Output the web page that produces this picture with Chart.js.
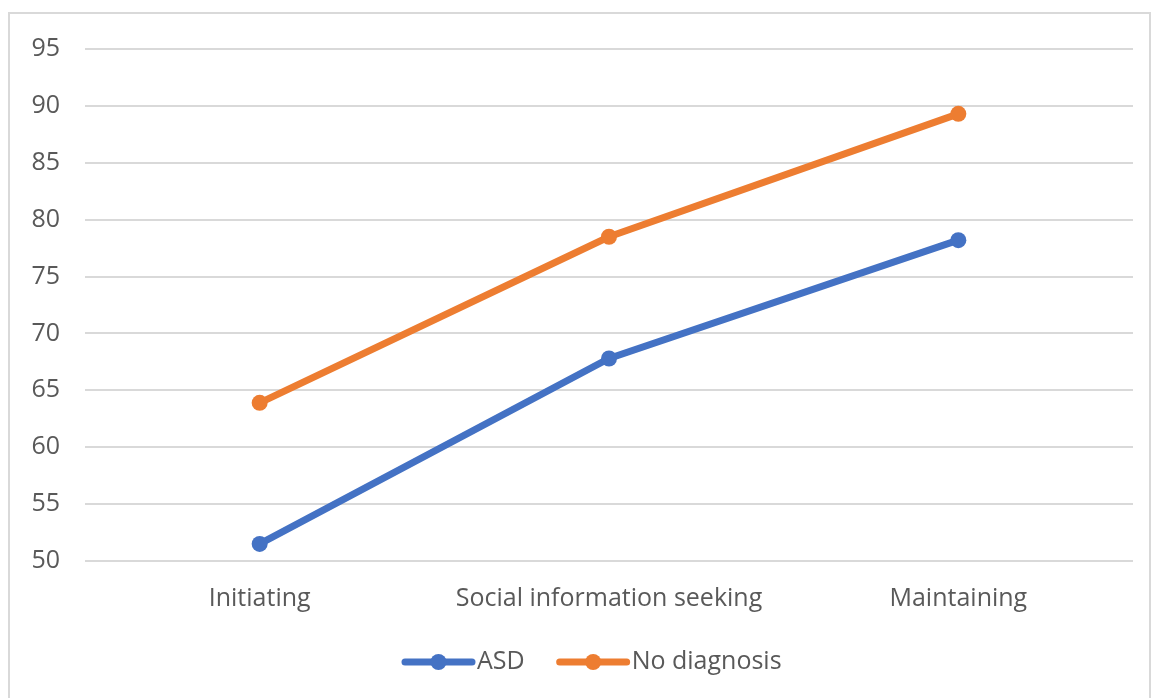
<!DOCTYPE html>
<html>
<head>
<meta charset="utf-8">
<script src="https://cdn.jsdelivr.net/npm/chart.js@4"></script>
<style>
  html, body { margin: 0; padding: 0; background: #ffffff; }
  #wrap { position: relative; width: 1158px; height: 698px; }
</style>
</head>
<body>
<div id="wrap"><canvas id="c" width="1158" height="698"></canvas></div>
<script>
const categories = ["Initiating", "Social information seeking", "Maintaining"];
const asdValues = [51.5, 67.8, 78.2];
const noDiagnosisValues = [63.9, 78.5, 89.3];
const seriesNames = ["ASD", "No diagnosis"];
const yMin = 50, yMax = 95, yStep = 5;

const BLUE = "#4472C4";
const ORANGE = "#ED7D31";
const TEXT = "#595959";
const FONT = "'Open Sans', 'Liberation Sans', sans-serif";

// Outer frame around the chart
const framePlugin = {
  id: "frame",
  beforeDraw(chart) {
    const ctx = chart.ctx;
    ctx.save();
    ctx.fillStyle = "#ffffff";
    ctx.fillRect(0, 0, chart.width, chart.height);
    ctx.strokeStyle = "#d9d9d9";
    ctx.lineWidth = 2;
    ctx.strokeRect(9, 13, 1141, 700);
    ctx.restore();
  }
};

// Line-with-marker legend below the axis
const legendPlugin = {
  id: "lineLegend",
  afterDraw(chart) {
    const ctx = chart.ctx;
    const y = 662;
    const lineLen = 67, gapText = 5, gapItems = 35;
    ctx.save();
    ctx.font = "25px " + FONT;
    ctx.textBaseline = "middle";
    let x = 405;
    chart.data.datasets.forEach((ds, i) => {
      if (i) x += gapItems;
      ctx.strokeStyle = ds.borderColor;
      ctx.lineWidth = 7;
      ctx.lineCap = "round";
      ctx.beginPath();
      ctx.moveTo(x, y);
      ctx.lineTo(x + lineLen, y);
      ctx.stroke();
      ctx.fillStyle = ds.borderColor;
      ctx.beginPath();
      ctx.arc(x + lineLen / 2, y, 8, 0, Math.PI * 2);
      ctx.fill();
      x += lineLen + gapText;
      ctx.fillStyle = TEXT;
      ctx.textAlign = "left";
      ctx.fillText(ds.label, x, y);
      x += ctx.measureText(ds.label).width;
    });
    ctx.restore();
  }
};

new Chart(document.getElementById("c"), {
  type: "line",
  data: {
    labels: categories,
    datasets: [
      {
        label: seriesNames[0], data: asdValues,
        borderColor: BLUE, backgroundColor: BLUE,
        borderWidth: 7, pointRadius: 8, pointBorderWidth: 0,
        pointBackgroundColor: BLUE, tension: 0, borderCapStyle: "round"
      },
      {
        label: seriesNames[1], data: noDiagnosisValues,
        borderColor: ORANGE, backgroundColor: ORANGE,
        borderWidth: 7, pointRadius: 8, pointBorderWidth: 0,
        pointBackgroundColor: ORANGE, tension: 0, borderCapStyle: "round"
      }
    ]
  },
  options: {
    responsive: false,
    animation: false,
    layout: { padding: { top: 49, left: 0, right: 25, bottom: 0 } },
    plugins: { legend: { display: false }, tooltip: { enabled: false } },
    scales: {
      x: {
        offset: true,
        grid: { display: false, drawTicks: false },
        border: { display: false },
        ticks: { color: TEXT, font: { family: FONT, size: 25 }, padding: 23, maxRotation: 0 },
        afterFit(scale) { scale.height = 137; }
      },
      y: {
        min: yMin, max: yMax,
        grid: { color: "#d9d9d9", lineWidth: 2, drawTicks: false },
        border: { display: false },
        ticks: { stepSize: yStep, color: TEXT, font: { family: FONT, size: 25 }, padding: 25 },
        afterFit(scale) { scale.width = 85; }
      }
    }
  },
  plugins: [framePlugin, legendPlugin]
});
</script>
</body>
</html>
